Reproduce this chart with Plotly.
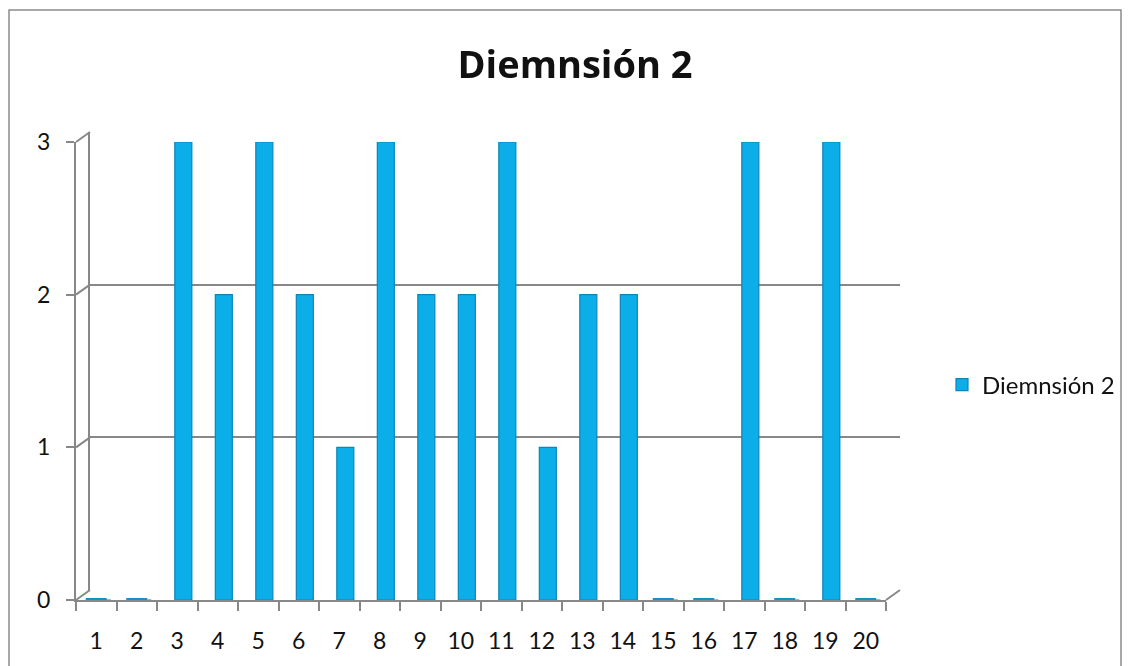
import plotly.graph_objects as go

categories = [str(i) for i in range(1, 21)]
values = [0, 0, 3, 2, 3, 2, 1, 3, 2, 2, 3, 1, 2, 2, 0, 0, 3, 0, 3, 0]
y_ticks = [0, 1, 2, 3]
series_name = "Diemnsión 2"
title_text = "Diemnsión 2"

# page geometry (px); the figure sits 8px in from the page corner
W, H = 1131, 666
OFF = 8
PL, PR, PT, PB = 76, 900, 132, 625          # plot area box on the page
L, R, T, B = PL - OFF, W - (PR - OFF), PT - OFF, H - (PB - OFF)
pw, ph = PR - PL, PB - PT


def px(x):
    return (x - PL) / pw


def py(y):
    return (PB - y) / ph


FRONT_L, FRONT_R, FRONT_B, FRONT_T = 76, 886, 600, 142
BACK_L, BACK_R, BACK_B, BACK_T = 90, 900, 590, 132
xd_front = [px(FRONT_L), px(FRONT_R)]
yd_front = [py(FRONT_B), py(FRONT_T)]
xd_back = [px(BACK_L), px(BACK_R)]
yd_back = [py(BACK_B), py(BACK_T)]

FONT = "Lato, 'Open Sans', sans-serif"
TFONT = "'Open Sans', Lato, sans-serif"
GRAY = "#888888"
xrange = [-0.5, len(categories) - 0.5]
idx = list(range(len(categories)))

fig = go.Figure()

# back wall axes (drawn first, gridlines behind the columns)
fig.add_trace(go.Scatter(x=categories, y=values, mode="markers", opacity=0,
                         showlegend=False, hoverinfo="skip", xaxis="x", yaxis="y"))

# columns on the front axes
fig.add_trace(go.Bar(
    x=categories, y=values, name=series_name,
    width=0.42, offset=-0.06,
    marker=dict(color="#0caeea", line=dict(color="#0a86b8", width=1.2)),
    xaxis="x2", yaxis="y2",
))

# flat ellipses for zero-height columns
zero_cats = [c for c, v in zip(categories, values) if v == 0]
fig.add_trace(go.Scatter(
    x=zero_cats, y=[0] * len(zero_cats), mode="markers",
    marker=dict(symbol="line-ew", size=15, line=dict(width=4, color="#1791c8")),
    showlegend=False, hoverinfo="skip", xaxis="x2", yaxis="y2", cliponaxis=False,
))

# carrier for the category labels axis (placed a little below the floor)
fig.add_trace(go.Scatter(x=idx, y=values, mode="markers", opacity=0,
                         showlegend=False, hoverinfo="skip", xaxis="x3", yaxis="y2"))

shapes = []
ymax = max(y_ticks)
for v in y_ticks:
    yf = yd_front[0] + v / ymax * (yd_front[1] - yd_front[0])
    yb = yd_back[0] + v / ymax * (yd_back[1] - yd_back[0])
    shapes.append(dict(type="line", xref="paper", yref="paper",
                       x0=xd_front[0], y0=yf, x1=xd_back[0], y1=yb,
                       line=dict(color=GRAY, width=2)))
shapes.append(dict(type="line", xref="paper", yref="paper",
                   x0=xd_front[1], y0=yd_front[0], x1=xd_back[1], y1=yd_back[0],
                   line=dict(color=GRAY, width=2)))
# outer chart border
shapes.append(dict(type="rect", xref="paper", yref="paper",
                   x0=px(9), x1=px(1121), y0=py(720), y1=py(10),
                   line=dict(color="#8c8c8c", width=1.5), fillcolor="rgba(0,0,0,0)",
                   layer="below"))

fig.update_layout(
    width=W, height=H,
    margin=dict(l=L, r=R, t=T, b=B),
    paper_bgcolor="white", plot_bgcolor="rgba(0,0,0,0)",
    font=dict(family=FONT, size=23, color="#111111"),
    title=dict(text="<b>" + title_text + "</b>", x=px(575), xref="paper",
               xanchor="center", y=1 - (65 - OFF) / H, yref="container", yanchor="middle",
               font=dict(size=38, family=TFONT, color="#111111")),
    showlegend=True,
    legend=dict(x=px(942), y=py(385), xanchor="left", yanchor="middle",
                font=dict(size=24, family=FONT, color="#111111"), bgcolor="rgba(0,0,0,0)"),
    xaxis=dict(domain=xd_back, type="category", categoryorder="array", categoryarray=categories,
               range=xrange, anchor="y", showline=False, showticklabels=False, showgrid=False,
               zeroline=False, ticks="", fixedrange=True),
    yaxis=dict(domain=yd_back, range=[0, ymax], tickvals=y_ticks, anchor="x",
               showline=True, linecolor=GRAY, linewidth=2,
               showgrid=True, gridcolor=GRAY, gridwidth=2,
               showticklabels=False, ticks="", zeroline=False, fixedrange=True),
    xaxis2=dict(domain=xd_front, type="category", categoryorder="array", categoryarray=categories,
                range=xrange, anchor="y2", showline=True, linecolor=GRAY, linewidth=2,
                ticks="outside", tickson="boundaries", ticklen=9, tickcolor=GRAY, tickwidth=2,
                showgrid=False, zeroline=False, showticklabels=False, fixedrange=True),
    xaxis3=dict(domain=xd_front, overlaying="x2", anchor="free", position=0, side="bottom",
                type="linear", range=xrange, tickvals=idx, ticktext=categories,
                showline=False, showgrid=False, zeroline=False, ticks="",
                tickfont=dict(size=23), fixedrange=True),
    yaxis2=dict(domain=yd_front, range=[0, ymax], tickvals=y_ticks, anchor="x2",
                showline=True, linecolor=GRAY, linewidth=2,
                ticks="outside", ticklen=8, tickcolor=GRAY, tickwidth=2,
                showgrid=False, zeroline=False, tickfont=dict(size=23), ticklabelstandoff=11,
                fixedrange=True),
    shapes=shapes,
)

fig.write_html("out.html")
